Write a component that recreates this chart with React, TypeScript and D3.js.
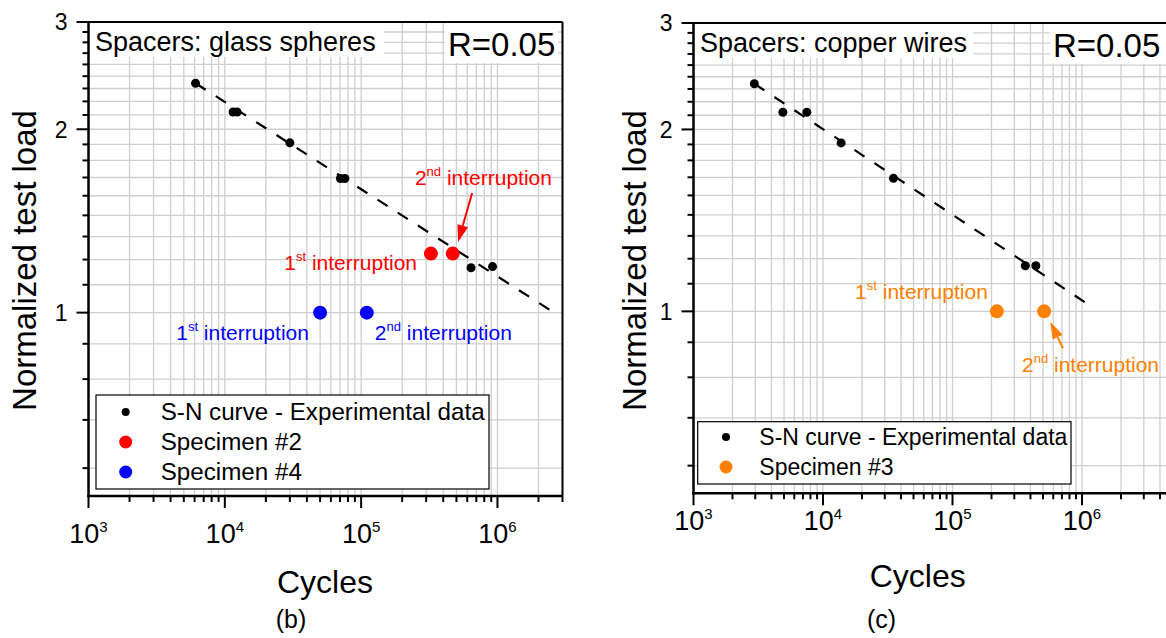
import React from 'react';
import * as d3 from 'd3';

// ---------- shared axis definitions ----------
const yTickLabels = [1, 2, 3];
const yMinorStepsPerUnit = 9; // minor ticks at k/9
const xDecadeExponents = [3, 4, 5, 6, 7];
const legendLabelSN = 'S-N curve - Experimental data';

// ---------- panel (b): glass spheres ----------
const snB_cycles = [6.1e3, 1.15e4, 1.23e4, 3.0e4, 7.05e4, 7.6e4, 6.4e5, 9.2e5];
const snB_load = [2.38, 2.135, 2.135, 1.9, 1.66, 1.66, 1.185, 1.19];
const fitB_cycles = [6.1e3, 2.6e6];
const fitB_load = [2.38, 1.0];
const spec2_cycles = [3.25e5, 4.7e5];
const spec2_load = [1.25, 1.25];
const spec4_cycles = [5.0e4, 1.1e5];
const spec4_load = [1.0, 1.0];

// ---------- panel (c): copper wires ----------
const snC_cycles = [2.95e3, 4.9e3, 7.5e3, 1.38e4, 3.5e4, 3.65e5, 4.4e5];
const snC_load = [2.38, 2.135, 2.135, 1.9, 1.66, 1.19, 1.19];
const fitC_cycles = [2.95e3, 1.17e6];
const fitC_load = [2.38, 1.02];
const spec3_cycles = [2.2e5, 5.1e5];
const spec3_load = [1.0, 1.0];

const RED = '#ff0000';
const BLUE = '#0000ff';
const ORANGE = '#ff8000';
const FONT = "'Liberation Sans', Arial, sans-serif";

type Series = { cycles: number[]; load: number[]; color: string; r: number; label: string };
type Annot = { n: number; s: number; num: string; sup: string; color: string; anchor: 'start' | 'end' };
type Arrow = { from: [number, number]; to: [number, number]; color: string };

type PanelProps = {
  left: number; right: number; top: number; bottom: number; xMax: number;
  xLabelBaseline: number; cyclesX: number; cyclesBaseline: number;
  caption: string; captionX: number; captionBaseline: number;
  yTitleX: number;
  title: string; titleBox: [number, number, number, number];
  rBox: [number, number, number, number]; rTextX: number;
  sn: Series; fit: { cycles: number[]; load: number[] };
  specimens: Series[]; annots: Annot[]; arrows: Arrow[];
  legend: { x: number; y: number; w: number; h: number; dotX: number; textX: number; rowY: number[]; fontSize: number };
  clipId: string;
};

function Panel(p: PanelProps) {
  const x = d3.scaleLog().domain([1e3, p.xMax]).range([p.left, p.right]);
  const y = d3.scaleLog().domain([0.5, 3]).range([p.bottom, p.top]);
  const yMinor: number[] = [];
  for (let k = 5; k <= 27; k++) yMinor.push(k / yMinorStepsPerUnit);
  const xTicks: { v: number; major: boolean }[] = [];
  xDecadeExponents.forEach((e) => {
    for (let m = 1; m <= 9; m++) {
      const v = m * Math.pow(10, e);
      if (v >= 1e3 && v <= p.xMax * 1.0001) xTicks.push({ v, major: m === 1 });
    }
  });
  const line = d3.line<number>().x((_, i) => x(p.fit.cycles[i])).y((_, i) => y(p.fit.load[i]));
  const pw = p.right - p.left;
  const ph = p.bottom - p.top;

  const arrowShape = (a: Arrow) => {
    const x1 = x(a.from[0]), y1 = y(a.from[1]), x2 = x(a.to[0]), y2 = y(a.to[1]);
    const dx = x2 - x1, dy = y2 - y1;
    const len = Math.hypot(dx, dy);
    const ux = dx / len, uy = dy / len;
    const hl = 17, hw = 5.5;
    const bx = x2 - ux * hl, by = y2 - uy * hl;
    const pts = [[x2, y2], [bx - uy * hw, by + ux * hw], [bx + uy * hw, by - ux * hw]];
    return (
      <g>
        <line x1={x1} y1={y1} x2={bx} y2={by} stroke={a.color} strokeWidth={2} />
        <polygon points={pts.map((q) => q.join(',')).join(' ')} fill={a.color} />
      </g>
    );
  };

  return (
    <g fontFamily={FONT}>
      <defs>
        <clipPath id={p.clipId}>
          <rect x={p.left} y={p.top} width={pw} height={ph} />
        </clipPath>
      </defs>
      {/* grid */}
      <g clipPath={`url(#${p.clipId})`}>
        {yMinor.map((v, i) => (
          <line key={'gy' + i} x1={p.left} x2={p.right} y1={y(v)} y2={y(v)} stroke="#cfcfcf" strokeWidth={1.3} />
        ))}
        {xTicks.map((t, i) => (
          <line key={'gx' + i} x1={x(t.v)} x2={x(t.v)} y1={p.top} y2={p.bottom} stroke="#cfcfcf" strokeWidth={1.3} />
        ))}
      </g>
      {/* title boxes */}
      <rect x={p.titleBox[0]} y={p.titleBox[1]} width={p.titleBox[2]} height={p.titleBox[3]} fill="#fff" />
      <text x={p.left + 6.5} y={p.top + 28.5} fontSize={27} fill="#000">{p.title}</text>
      <rect x={p.rBox[0]} y={p.rBox[1]} width={p.rBox[2]} height={p.rBox[3]} fill="#fff" />
      <text x={p.rTextX} y={p.top + 34} fontSize={33} fill="#000">R=0.05</text>

      {/* data */}
      <g clipPath={`url(#${p.clipId})`}>
        <path d={line(p.fit.cycles) || ''} fill="none" stroke="#000" strokeWidth={2.2} strokeDasharray="12,12" />
        {p.sn.cycles.map((c, i) => (
          <circle key={'sn' + i} cx={x(c)} cy={y(p.sn.load[i])} r={p.sn.r} fill={p.sn.color} />
        ))}
        {p.specimens.map((s, si) =>
          s.cycles.map((c, i) => (
            <circle key={'sp' + si + '-' + i} cx={x(c)} cy={y(s.load[i])} r={s.r} fill={s.color} />
          ))
        )}
      </g>
      {p.annots.map((a, i) => (
        <text key={'an' + i} x={x(a.n)} y={y(a.s)} fontSize={21} fill={a.color} textAnchor={a.anchor}>
          {a.num}
          <tspan fontSize={13} dy={-9}>{a.sup}</tspan>
          <tspan dy={9}>{' interruption'}</tspan>
        </text>
      ))}
      {p.arrows.map((a, i) => <g key={'ar' + i}>{arrowShape(a)}</g>)}

      {/* legend */}
      <rect x={p.legend.x} y={p.legend.y} width={p.legend.w} height={p.legend.h} fill="#fff" stroke="#000" strokeWidth={1.2} />
      {[p.sn, ...p.specimens].map((s, i) => (
        <g key={'lg' + i}>
          <circle cx={p.legend.dotX} cy={p.legend.rowY[i] - 8} r={i === 0 ? 4 : 6.5} fill={s.color} />
          <text x={p.legend.textX} y={p.legend.rowY[i]} fontSize={p.legend.fontSize} fill="#000">{s.label}</text>
        </g>
      ))}

      {/* frame */}
      <line x1={p.left} x2={p.right} y1={p.top} y2={p.top} stroke="#000" strokeWidth={2} />
      <line x1={p.right} x2={p.right} y1={p.top} y2={p.bottom} stroke="#000" strokeWidth={2} />
      <line x1={p.left} x2={p.left} y1={p.top - 1} y2={p.bottom + 1.25} stroke="#000" strokeWidth={2.5} />
      <line x1={p.left - 1.25} x2={p.right} y1={p.bottom} y2={p.bottom} stroke="#000" strokeWidth={2.5} />

      {/* y ticks */}
      {yMinor.map((v, i) => {
        const major = yTickLabels.includes(Math.round(v * 1000) / 1000);
        return (
          <line key={'yt' + i} x1={p.left - (major ? 12 : 6)} x2={p.left} y1={y(v)} y2={y(v)} stroke="#000" strokeWidth={2} />
        );
      })}
      {yTickLabels.map((v) => (
        <text key={'yl' + v} x={p.left - 21} y={y(v) + 8.3} fontSize={23} textAnchor="end" fill="#000">{v}</text>
      ))}
      {/* x ticks */}
      {xTicks.map((t, i) => (
        <line key={'xt' + i} x1={x(t.v)} x2={x(t.v)} y1={p.bottom} y2={p.bottom + (t.major ? 12 : 6)} stroke="#000" strokeWidth={2} />
      ))}
      {xDecadeExponents.filter((e) => Math.pow(10, e) <= p.xMax / 2).map((e) => (
        <text key={'xl' + e} x={x(Math.pow(10, e))} y={p.xLabelBaseline} fontSize={27} textAnchor="middle" fill="#000">
          10<tspan fontSize={15} dy={-11}>{e}</tspan>
        </text>
      ))}
      {/* axis titles */}
      <text x={p.cyclesX} y={p.cyclesBaseline} fontSize={32} textAnchor="middle" fill="#000">Cycles</text>
      <text transform={`translate(${p.yTitleX},260.5) rotate(-90)`} fontSize={33} textAnchor="middle" fill="#000">Normalized test load</text>
      <text x={p.captionX} y={p.captionBaseline} fontSize={25} textAnchor="middle" fill="#000">{p.caption}</text>
    </g>
  );
}

export default function App() {
  const panelB: PanelProps = {
    left: 88.5, right: 562.5, top: 22, bottom: 496, xMax: 3e6,
    xLabelBaseline: 543, cyclesX: 325, cyclesBaseline: 592.5,
    caption: '(b)', captionX: 291, captionBaseline: 628,
    yTitleX: 36,
    title: 'Spacers: glass spheres', titleBox: [90, 23, 294, 34],
    rBox: [445, 23, 113, 40], rTextX: 448,
    sn: { cycles: snB_cycles, load: snB_load, color: '#000', r: 4.5, label: legendLabelSN },
    fit: { cycles: fitB_cycles, load: fitB_load },
    specimens: [
      { cycles: spec2_cycles, load: spec2_load, color: RED, r: 7, label: 'Specimen #2' },
      { cycles: spec4_cycles, load: spec4_load, color: BLUE, r: 7, label: 'Specimen #4' },
    ],
    annots: [
      { n: 2.48e5, s: 1.62, num: '2', sup: 'nd', color: RED, anchor: 'start' },
      { n: 2.57e5, s: 1.175, num: '1', sup: 'st', color: RED, anchor: 'end' },
      { n: 4.4e3, s: 0.902, num: '1', sup: 'st', color: BLUE, anchor: 'start' },
      { n: 1.26e5, s: 0.902, num: '2', sup: 'nd', color: BLUE, anchor: 'start' },
    ],
    arrows: [{ from: [6.52e5, 1.572], to: [5.14e5, 1.306], color: RED }],
    legend: { x: 96, y: 395, w: 393, h: 94, dotX: 125.7, textX: 160.7, rowY: [420, 450, 480], fontSize: 24.2 },
    clipId: 'clipB',
  };
  const panelC: PanelProps = {
    left: 693.5, right: 693.5 + 4 * 129.5, top: 23, bottom: 493.3, xMax: 1e7,
    xLabelBaseline: 530, cyclesX: 917.7, cyclesBaseline: 586.7,
    caption: '(c)', captionX: 881.5, captionBaseline: 628,
    yTitleX: 646,
    title: 'Spacers: copper wires', titleBox: [695, 24, 278, 34],
    rBox: [1050, 24, 116, 40], rTextX: 1053,
    sn: { cycles: snC_cycles, load: snC_load, color: '#000', r: 4.5, label: legendLabelSN },
    fit: { cycles: fitC_cycles, load: fitC_load },
    specimens: [{ cycles: spec3_cycles, load: spec3_load, color: ORANGE, r: 7, label: 'Specimen #3' }],
    annots: [
      { n: 1.77e4, s: 1.048, num: '1', sup: 'st', color: ORANGE, anchor: 'start' },
      { n: 3.44e5, s: 0.795, num: '2', sup: 'nd', color: ORANGE, anchor: 'start' },
    ],
    arrows: [{ from: [7.13e5, 0.869], to: [5.69e5, 0.961], color: ORANGE }],
    legend: { x: 697.7, y: 421.7, w: 373.3, h: 62.3, dotX: 726, textX: 759.3, rowY: [445, 475], fontSize: 23 },
    clipId: 'clipC',
  };
  return (
    <svg width={1166} height={638} style={{ position: 'absolute', left: 0, top: 0, display: 'block', background: '#fff' }}>
      <rect width={1166} height={638} fill="#fff" />
      <Panel {...panelB} />
      <Panel {...panelC} />
    </svg>
  );
}
